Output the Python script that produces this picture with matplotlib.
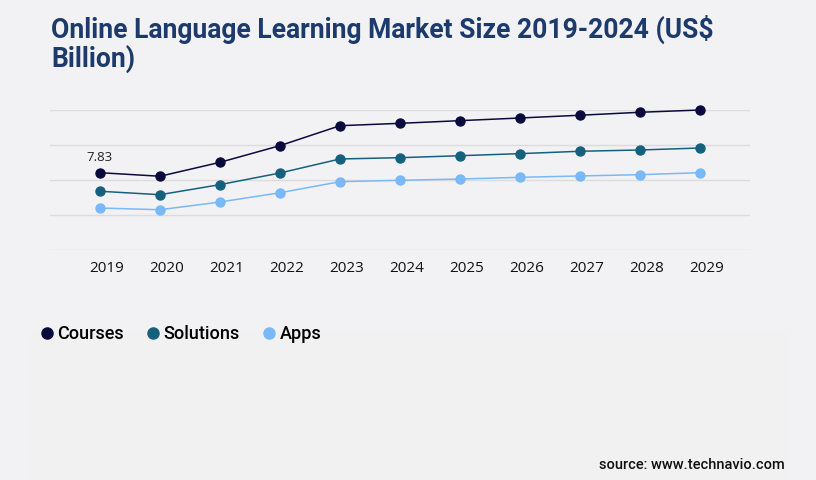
import numpy as np
import matplotlib as mpl
import matplotlib.pyplot as plt
from matplotlib.patches import Rectangle

years = [2019, 2020, 2021, 2022, 2023, 2024, 2025, 2026, 2027, 2028, 2029]
courses = [7.83, 7.47, 8.88, 10.57, 12.59, 12.83, 13.10, 13.37, 13.65, 13.95, 14.18]
solutions = [5.95, 5.60, 6.62, 7.80, 9.22, 9.35, 9.55, 9.76, 10.00, 10.13, 10.33]
apps = [4.25, 4.08, 4.86, 5.80, 6.92, 7.06, 7.19, 7.36, 7.50, 7.63, 7.83]
series = ["Courses", "Solutions", "Apps"]
colors = ["#0b0a3d", "#15617d", "#79b9f7"]

bg = "#f2f2f4"
plt.rcParams["font.family"] = ["Roboto", "DejaVu Sans"]

fig = plt.figure(figsize=(8.16, 4.8), dpi=100, facecolor=bg)
fig.patches.append(Rectangle((30/816, 0), 760/816, 150/480, transform=fig.transFigure,
                             facecolor="#f1f1f2", edgecolor="none", zorder=0))

ax = fig.add_axes([50/816, 230/480, 700/816, 140/480])
ax.set_facecolor(bg)

for name, vals, c in zip(series, [courses, solutions, apps], colors):
    ax.plot(years, vals, color=c, lw=1.1, marker="o", ms=6.5, label=name, zorder=3, clip_on=False)

ax.annotate("%.2f" % courses[0], (years[0], courses[0]), xytext=(0, 6), textcoords="offset points",
            ha="center", va="bottom", fontsize=9.5, color="#222222", family=["Open Sans", "DejaVu Sans"])

step = 14.18 / 4
ax.set_ylim(0, 14.18)
ax.set_yticks([step * i for i in range(5)])
ax.set_xlim(years[0] - 50/60, years[-1] + 50/60)
# year labels sit a little right of the points, as in the original
ax.set_xticks([y + 7/60 for y in years])
ax.set_xticklabels([str(y) for y in years], fontsize=11, color="#111111", family=["Open Sans", "DejaVu Sans"])
ax.tick_params(axis="x", length=0, pad=8)
ax.tick_params(axis="y", length=0, labelleft=False)
ax.grid(axis="y", color="#dcdcdf", lw=1)
for s in ax.spines.values():
    s.set_visible(False)

fig.text(51/816, 1 - 44/480, "Online Language Learning Market Size 2019-2024 (US$\nBillion)",
         fontsize=19.1, fontweight="bold", color="#1c3a6b", va="center", ha="left", linespacing=1.0)

leg = fig.legend(loc="center left", bbox_to_anchor=(25/816, 1 - 334/480), ncol=3, frameon=False,
                 prop={"size": 13, "weight": "medium"}, handlelength=0.6, handletextpad=0.3,
                 columnspacing=1.3)
for h in leg.legend_handles:
    h.set_linestyle("none")
    h.set_markersize(8)

fig.text(785/816, 1 - 465/480, "source: www.technavio.com", fontsize=10.5, ha="right", va="center",
         color="#111111", fontweight="medium")

fig.savefig("out.png", dpi=100, facecolor=bg)
